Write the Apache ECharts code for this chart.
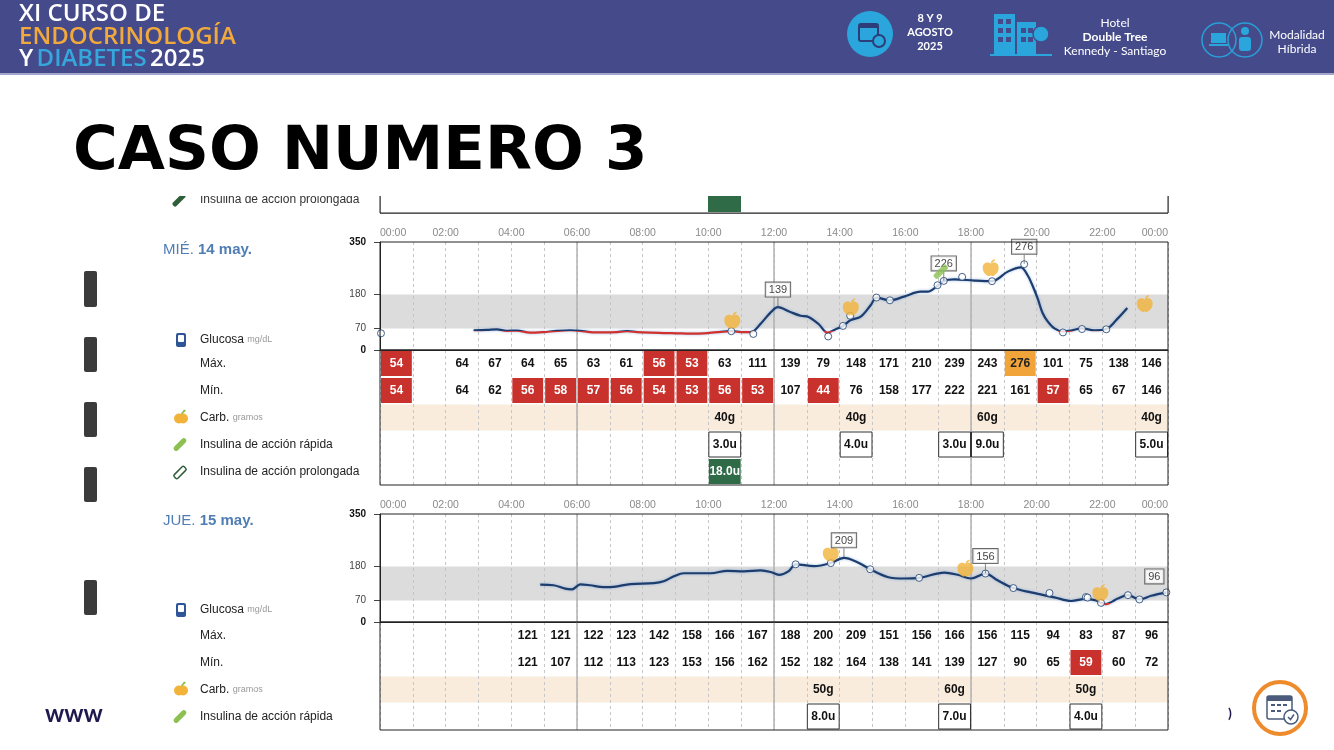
<!DOCTYPE html>
<html><head><meta charset="utf-8">
<script src="https://cdn.jsdelivr.net/npm/echarts@6.0.0/dist/echarts.min.js"></script>
<style>html,body{margin:0;padding:0;background:#fff;}#chart{width:1334px;height:750px;}</style>
</head><body><div id="chart"></div>
<script>
// ---------------- DATA ----------------
const hourTickLabels = ['00:00','02:00','04:00','06:00','08:00','10:00','12:00','14:00','16:00','18:00','20:00','22:00','00:00'];
const yTicks = [0, 70, 180, 350];
const targetRange = [70, 180];
const solidHours = [6, 12, 18];
const rowNamesDay1 = ['Máx.', 'Mín.', 'Carb.', 'Insulina de acción rápida', 'Insulina de acción prolongada'];
const rowNamesDay2 = ['Máx.', 'Mín.', 'Carb.', 'Insulina de acción rápida'];

// Day 1: MIÉ. 14 may.
const day1Weekday = 'MIÉ.';
const day1Date = '14 may.';
const day1Times = [2.85,3.25,3.56,3.86,4.17,4.57,4.98,5.39,5.79,6.1,6.4,6.81,7.22,7.52,7.83,8.24,8.64,9.05,9.46,9.87,10.27,10.7,11.0,11.3,11.6,11.9,12.12,12.5,12.81,13.05,13.35,13.63,13.85,14.1,14.34,14.64,14.95,15.12,15.53,15.96,16.47,16.68,16.98,17.17,17.49,18.1,18.64,19.12,19.52,19.72,19.87,20.03,20.18,20.34,20.54,20.8,21.05,21.38,21.76,22.12,22.45,22.76];
const day1Glucose = [64,65,67,62,63,56,58,62,64,62,58,57,58,61,58,56,55,54,53,54,58,61,58,58,86,122,139,123,111,107,85,56,66,78,97,108,146,170,161,173,189,189,208,224,229,225,223,254,268,243,210,167,120,92,70,60,63,70,64,68,100,136];
const day1ReadTimes = [0.03,10.7,11.37,13.65,14.1,14.32,15.12,15.53,16.98,17.17,17.73,18.64,19.62,20.8,21.38,22.12];
const day1ReadValues = [54,61,52,44,78,111,170,161,210,224,237,223,278,57,68,67];
const day1TagTimes = [12.12,17.17,19.62];
const day1TagValues = [139,224,278];
const day1TagTexts = ['139','226','276'];
const day1MealTimes = [10.73,14.34,18.6,23.29];
const day1MealValues = [97,140,267,151];
const day1PenTimes = [17.08];
const day1PenValues = [254];
const day1Max = [54,null,64,67,64,65,63,61,56,53,63,111,139,79,148,171,210,239,243,276,101,75,138,146];
const day1Min = [54,null,64,62,56,58,57,56,54,53,56,53,107,44,76,158,177,222,221,161,57,65,67,146];
const day1CarbHours = [10,14,18,23];
const day1CarbGrams = [40,40,60,40];
const day1RapidHours = [10,14,17,18,23];
const day1RapidUnits = [3.0,4.0,3.0,9.0,5.0];
const day1LongHours = [10];
const day1LongUnits = [18.0];

// Day 2: JUE. 15 may.
const day2Weekday = 'JUE.';
const day2Date = '15 may.';
const day2Times = [4.88,5.29,5.64,5.85,6.1,6.4,6.81,7.12,7.63,8.34,8.64,8.95,9.25,9.66,10.07,10.58,11.08,11.59,11.9,12.15,12.45,12.66,13.22,13.73,14.13,14.54,14.93,15.46,15.96,16.42,17.19,17.59,18.0,18.44,18.81,19.29,19.83,20.54,21.05,21.5,21.81,21.96,22.12,22.3,22.47,22.78,23.13,23.49,23.95];
const day2Glucose = [121,119,108,106,122,119,113,114,123,126,132,148,158,158,158,166,164,167,162,153,165,187,181,191,208,194,171,146,141,143,160,153,141,157,135,110,96,80,68,75,70,62,58,66,76,87,73,85,96];
const day2ReadTimes = [12.66,13.73,14.93,16.42,18.44,19.29,20.39,21.5,21.55,21.96,22.78,23.13,23.95];
const day2ReadValues = [187,191,171,143,157,110,94,81,79,62,87,73,96];
const day2TagTimes = [14.13,18.44,23.95];
const day2TagValues = [208,157,96];
const day2TagTexts = ['209','156','96'];
const day2MealTimes = [13.73,17.83,21.94];
const day2MealValues = [224,175,96];
const day2Max = [null,null,null,null,121,121,122,123,142,158,166,167,188,200,209,151,156,166,156,115,94,83,87,96];
const day2Min = [null,null,null,null,121,107,112,113,123,153,156,162,152,182,164,138,141,139,127,90,65,59,60,72];
const day2CarbHours = [13,17,21];
const day2CarbGrams = [50,60,50];
const day2RapidHours = [13,17,21];
const day2RapidUnits = [8.0,7.0,4.0];

// ---------------- STYLE / HELPERS ----------------
const SANS = '"Liberation Sans", Arial, sans-serif';
const LOW_CELL = 60, HIGH_CELL = 250, LOW_LINE = 60;
const LINE_BLUE = '#1c3d6e', LINE_RED = '#d0312d';
const APPLE_PATH = 'path://M50,28 C40,16 8,16 8,52 C8,82 30,100 42,100 C46,100 48,97 50,97 C52,97 54,100 58,100 C70,100 92,82 92,52 C92,16 60,16 50,28 Z M50,26 C52,12 62,4 74,2 C72,14 62,22 50,26 Z';

function glucoseKind(v) { return v < LOW_CELL ? 'red' : (v > HIGH_CELL ? 'orange' : 'plain'); }
function zip(a, b) { return a.map((t, i) => [t, b[i]]); }

function buildCells(maxV, minV, carbH, carbG, rapH, rapU, longH, longU) {
  const cells = [];
  maxV.forEach((v, i) => { if (v != null) cells.push({col:i, row:0, text:String(v), kind:glucoseKind(v)}); });
  minV.forEach((v, i) => { if (v != null) cells.push({col:i, row:1, text:String(v), kind:glucoseKind(v)}); });
  carbH.forEach((h, i) => cells.push({col:h, row:2, text:carbG[i] + 'g', kind:'plain'}));
  rapH.forEach((h, i) => cells.push({col:h, row:3, text:rapU[i].toFixed(1) + 'u', kind:'box'}));
  (longH || []).forEach((h, i) => cells.push({col:h, row:4, text:longU[i].toFixed(1) + 'u', kind:'green'}));
  return cells;
}

const CELL_STYLE = {
  red:    {fill:'#c9312d', color:'#fff', ix:1, iy:1},
  orange: {fill:'#f0a43a', color:'#222', ix:1, iy:1},
  plain:  {color:'#111'},
  box:    {fill:'#fff', stroke:'#333', lw:1, color:'#111', ix:0.5, iy:1},
  green:  {fill:'#2e6b46', color:'#fff', ix:0.5, iy:1},
  band:   {fill:'#f9ecdc', ix:0.5, iy:0.5}
};

function cellRenderer(cells) {
  return function (params, api) {
    const c = cells[params.dataIndex];
    const a = api.coord([c.col, c.row]);
    const b = api.coord([c.col + (c.span || 1), c.row + 1]);
    const x0 = Math.min(a[0], b[0]), x1 = Math.max(a[0], b[0]);
    const y0 = Math.min(a[1], b[1]), y1 = Math.max(a[1], b[1]);
    const w = x1 - x0, h = y1 - y0;
    const st = CELL_STYLE[c.kind];
    const children = [];
    if (st.fill || st.stroke) {
      children.push({type:'rect', shape:{x:x0 + st.ix, y:y0 + st.iy, width:w - 2*st.ix, height:h - 2*st.iy},
        style:{fill:st.fill || 'none', stroke:st.stroke || null, lineWidth:st.lw || 0}});
    }
    if (c.text) {
      children.push({type:'text', x:x0 + w/2, y:y0 + h/2 + 0.5,
        style:{text:c.text, fill:st.color, font:'bold 12px ' + SANS, align:'center', verticalAlign:'middle', textAlign:'center', textVerticalAlign:'middle'}});
    }
    return {type:'group', children};
  };
}

const panels = [
  {plotTop:242, tableTop:350, rows:rowNamesDay1.length, times:day1Times, glucose:day1Glucose,
   readT:day1ReadTimes, readV:day1ReadValues, tagT:day1TagTimes, tagV:day1TagValues, tagX:day1TagTexts,
   mealT:day1MealTimes, mealV:day1MealValues, penT:day1PenTimes, penV:day1PenValues,
   cells:buildCells(day1Max, day1Min, day1CarbHours, day1CarbGrams, day1RapidHours, day1RapidUnits, day1LongHours, day1LongUnits)},
  {plotTop:514, tableTop:622, rows:rowNamesDay2.length, times:day2Times, glucose:day2Glucose,
   readT:day2ReadTimes, readV:day2ReadValues, tagT:day2TagTimes, tagV:day2TagValues, tagX:day2TagTexts,
   mealT:day2MealTimes, mealV:day2MealValues, penT:[], penV:[],
   cells:buildCells(day2Max, day2Min, day2CarbHours, day2CarbGrams, day2RapidHours, day2RapidUnits, [], [])}
];

const grid = [], xAxis = [], yAxis = [], series = [];
const PLOT_LEFT = 380, PLOT_W = 788, PLOT_H = 108, ROW_H = 27;
const tagShift = {'96': [-12, -3]};

panels.forEach((p, k) => {
  const gp = 2*k, gt = 2*k + 1;
  grid.push({left:PLOT_LEFT, top:p.plotTop, width:PLOT_W, height:PLOT_H, show:true, borderColor:'#222', borderWidth:1, z:20});
  grid.push({left:PLOT_LEFT, top:p.tableTop, width:PLOT_W, height:ROW_H*p.rows, show:true, borderColor:'#222', borderWidth:1, z:20});
  const split = {show:true, lineStyle:{color:'#c6c6c6', type:[3,3], width:1}};
  xAxis.push({gridIndex:gp, type:'value', min:0, max:24, interval:1, position:'top', z:3,
    axisLine:{show:true, lineStyle:{color:'#222'}}, axisTick:{show:false}, splitLine:split,
    axisLabel:{show:true, color:'#8a8a8a', fontSize:10.5, fontFamily:SANS, margin:3,
      alignMinLabel:'left', alignMaxLabel:'right',
      formatter: v => (v % 2 === 0 ? hourTickLabels[v/2] : '')}});
  xAxis.push({gridIndex:gt, type:'value', min:0, max:24, interval:1, z:3,
    axisLine:{show:false}, axisTick:{show:false}, axisLabel:{show:false}, splitLine:split});
  yAxis.push({gridIndex:gp, type:'value', min:0, max:350, z:3,
    axisLine:{show:true, lineStyle:{color:'#222'}},
    axisTick:{show:true, customValues:yTicks, length:6, lineStyle:{color:'#444'}},
    splitLine:{show:false},
    axisLabel:{customValues:yTicks, margin:14, fontFamily:SANS,
      formatter: v => (v === 0 || v === 350) ? '{b|' + v + '}' : '{n|' + v + '}',
      rich:{b:{fontWeight:'bold', color:'#111', fontSize:10, fontFamily:SANS}, n:{color:'#444', fontSize:10, fontFamily:SANS}}}});
  yAxis.push({gridIndex:gt, type:'value', min:0, max:p.rows, inverse:true, show:false});

  series.push({type:'line', xAxisIndex:gp, yAxisIndex:gp, data:[[0,0]], symbol:'none', lineStyle:{opacity:0}, silent:true,
    markArea:{silent:true, itemStyle:{color:'#dcdcdc'}, data:[[{xAxis:0, yAxis:targetRange[0]},{xAxis:24, yAxis:targetRange[1]}]]}});
  [gp, gt].forEach(gi => {
    series.push({type:'line', xAxisIndex:gi, yAxisIndex:gi, data:[[0,0]], symbol:'none', lineStyle:{opacity:0}, silent:true,
      markLine:{silent:true, symbol:'none', label:{show:false}, lineStyle:{color:'#b2b2b2', type:'solid', width:1.5},
        data: solidHours.map(h => ({xAxis:h}))}});
  });
  series.push({id:'glucose' + k, type:'line', xAxisIndex:gp, yAxisIndex:gp, data:zip(p.times, p.glucose), smooth:0.35, showSymbol:false, z:10,
    lineStyle:{width:2.2, color:LINE_BLUE, shadowColor:'rgba(90,140,210,0.55)', shadowBlur:3}});
  series.push({type:'scatter', xAxisIndex:gp, yAxisIndex:gp, data:zip(p.readT, p.readV), symbol:'circle', symbolSize:7, z:11,
    itemStyle:{color:'#fff', borderColor:LINE_BLUE, borderWidth:1}});
  series.push({type:'scatter', xAxisIndex:gp, yAxisIndex:gp, data:zip(p.mealT, p.mealV), symbol:APPLE_PATH, symbolSize:[16,17], z:12,
    itemStyle:{color:'#f2b33a'}});
  if (p.penT.length) {
    series.push({type:'scatter', xAxisIndex:gp, yAxisIndex:gp, data:zip(p.penT, p.penV), symbol:'roundRect', symbolSize:[6,17], symbolRotate:-45, z:14,
      itemStyle:{color:'#8cc152'}});
  }
  series.push({type:'scatter', xAxisIndex:gp, yAxisIndex:gp, z:13,
    data: p.tagT.map((t, i) => {
      const sh = tagShift[p.tagX[i]];
      const item = {value:[t, p.tagV[i]], name:p.tagX[i]};
      if (sh) { item.symbolSize = 0; item.label = {offset:sh}; }
      return item;
    }),
    symbol:'rect', symbolSize:[1,9], symbolOffset:[0,-5], itemStyle:{color:'#666'},
    label:{show:true, position:'top', distance:1, formatter:'{b}', fontSize:11, fontFamily:SANS, color:'#111',
      backgroundColor:'#fff', borderColor:'#444', borderWidth:1, padding:[2,3,1,3]}});
  const band = [{col:0, span:24, row:2, kind:'band'}];
  series.push({type:'custom', xAxisIndex:gt, yAxisIndex:gt, z:1, silent:true, data:band.map(c => [c.col, c.row]), renderItem:cellRenderer(band)});
  series.push({type:'custom', xAxisIndex:gt, yAxisIndex:gt, z:10, silent:true, data:p.cells.map(c => [c.col + 0.5, c.row + 0.5]), renderItem:cellRenderer(p.cells)});
});

// ---------------- GRAPHIC (slide decoration + row labels) ----------------
function txt(x, y, text, font, fill, align) {
  return {type:'text', x, y, style:{text, font, fill, align:align||'left', verticalAlign:'middle', textAlign:align||'left', textVerticalAlign:'middle'}};
}
const G = [];
function appleIcon(cx, cy) {
  G.push({type:'circle', shape:{cx:cx-2, cy:cy+1, r:5}, style:{fill:'#f2b33a'}});
  G.push({type:'circle', shape:{cx:cx+2, cy:cy+1, r:5}, style:{fill:'#f2b33a'}});
  G.push({type:'polygon', shape:{points:[[cx,cy-4],[cx+3,cy-8],[cx+5,cy-7],[cx+1,cy-3]]}, style:{fill:'#8cbf4a'}});
}
G.push({type:'rect', shape:{x:0,y:0,width:1334,height:74}, style:{fill:'#454a8a'}});
G.push({type:'rect', shape:{x:0,y:73,width:1334,height:2}, style:{fill:'#a2a6cc'}});
const HF = '"Open Sans", "Noto Sans", sans-serif';
G.push(txt(19, 14, 'XI CURSO DE', '600 24px ' + HF, '#ffffff'));
G.push(txt(19, 37, 'ENDOCRINOLOGÍA', '600 24px ' + HF, '#f2a93b'));
G.push({type:'text', x:19, y:59, style:{text:'{w|Y} {b|DIABETES} {w|2025}', verticalAlign:'middle', textVerticalAlign:'middle',
  rich:{w:{font:'600 24px ' + HF, fill:'#ffffff', color:'#ffffff'}, b:{font:'600 24px ' + HF, fill:'#35a7dc', color:'#35a7dc'}}}});
G.push({type:'circle', shape:{cx:870, cy:34, r:23}, style:{fill:'#2aa6dc'}});
G.push({type:'rect', shape:{x:859, y:24, width:19, height:17, r:2}, style:{fill:'none', stroke:'#2d3d78', lineWidth:2}});
G.push({type:'rect', shape:{x:859, y:24, width:19, height:4}, style:{fill:'#2d3d78'}});
G.push({type:'circle', shape:{cx:879, cy:41, r:6}, style:{fill:'#2aa6dc', stroke:'#2d3d78', lineWidth:2}});
const HB = '"Lato", "Noto Sans", sans-serif';
G.push(txt(930, 18, '8 Y 9', 'bold 11px ' + HB, '#fff', 'center'));
G.push(txt(930, 32, 'AGOSTO', 'bold 11px ' + HB, '#fff', 'center'));
G.push(txt(930, 46, '2025', 'bold 11px ' + HB, '#fff', 'center'));
G.push({type:'rect', shape:{x:994, y:14, width:21, height:40}, style:{fill:'#2aa6dc'}});
G.push({type:'rect', shape:{x:1017, y:22, width:19, height:32}, style:{fill:'#2aa6dc'}});
G.push({type:'rect', shape:{x:990, y:54, width:62, height:2}, style:{fill:'#2aa6dc'}});
[[998,19],[1006,19],[998,28],[1006,28],[998,37],[1006,37],[1021,28],[1028,28],[1021,37],[1028,37]].forEach(w =>
  G.push({type:'rect', shape:{x:w[0], y:w[1], width:5, height:5}, style:{fill:'#454a8a'}}));
G.push({type:'circle', shape:{cx:1041, cy:34, r:8}, style:{fill:'#2aa6dc', stroke:'#454a8a', lineWidth:1.5}});
G.push(txt(1115, 23, 'Hotel', '12px ' + HB, '#fff', 'center'));
G.push(txt(1115, 37, 'Double Tree', 'bold 12px ' + HB, '#fff', 'center'));
G.push(txt(1115, 51, 'Kennedy - Santiago', '12px ' + HB, '#fff', 'center'));
G.push({type:'circle', shape:{cx:1219, cy:40, r:17}, style:{fill:'none', stroke:'#2a9fd6', lineWidth:1.5}});
G.push({type:'circle', shape:{cx:1245, cy:40, r:17}, style:{fill:'none', stroke:'#2a9fd6', lineWidth:1.5}});
G.push({type:'rect', shape:{x:1211, y:33, width:15, height:10}, style:{fill:'#2aa6dc'}});
G.push({type:'rect', shape:{x:1209, y:44, width:19, height:2}, style:{fill:'#2aa6dc'}});
G.push({type:'circle', shape:{cx:1245, cy:31, r:4}, style:{fill:'#2aa6dc'}});
G.push({type:'rect', shape:{x:1239, y:37, width:12, height:14, r:3}, style:{fill:'#2aa6dc'}});
G.push(txt(1297, 35, 'Modalidad', '12px ' + HB, '#fff', 'center'));
G.push(txt(1297, 49, 'Híbrida', '12px ' + HB, '#fff', 'center'));
G.push(txt(73, 153, 'CASO NUMERO 3', 'bold 61px "DejaVu Sans", sans-serif', '#000'));

G.push(txt(200, 200, 'Insulina de acción prolongada', '12px ' + SANS, '#333'));
G.push({type:'rect', x:179, y:200, rotation:-Math.PI/4, shape:{x:-2.5, y:-8, width:5, height:16, r:2}, style:{fill:'#2f5f3a'}});
G.push({type:'rect', shape:{x:708, y:190, width:33, height:22}, style:{fill:'#2e6b46'}});
G.push({type:'rect', shape:{x:380, y:212.5, width:788, height:1.2}, style:{fill:'#222'}});
G.push({type:'rect', shape:{x:379.5, y:190, width:1.2, height:23}, style:{fill:'#222'}});
G.push({type:'rect', shape:{x:1167.5, y:190, width:1.2, height:23}, style:{fill:'#222'}});
G.push({type:'rect', z:50, shape:{x:150, y:178, width:1040, height:18}, style:{fill:'#fff'}});

[[271,36],[337,35],[402,35],[467,35],[580,35]].forEach(b =>
  G.push({type:'rect', shape:{x:84, y:b[0], width:13, height:b[1], r:2}, style:{fill:'#3b3b3b'}}));

function dayLabel(y, wd, dt) {
  G.push({type:'text', x:163, y, style:{text:'{a|' + wd + ' }{b|' + dt + '}', verticalAlign:'middle', textVerticalAlign:'middle',
    rich:{a:{font:'15px ' + SANS, fill:'#4f7db4', color:'#4f7db4'}, b:{font:'bold 15px ' + SANS, fill:'#4f7db4', color:'#4f7db4'}}}});
}
dayLabel(250, day1Weekday, day1Date);
dayLabel(521, day2Weekday, day2Date);
function legendBlock(glucY, tableTop, names) {
  G.push({type:'text', x:200, y:glucY, style:{text:'{a|Glucosa} {s|mg/dL}', verticalAlign:'middle', textVerticalAlign:'middle',
    rich:{a:{font:'12px ' + SANS, fill:'#222', color:'#222'}, s:{font:'9px ' + SANS, fill:'#999', color:'#999'}}}});
  G.push({type:'rect', shape:{x:176, y:glucY-7, width:10, height:14, r:2}, style:{fill:'#2d5597'}});
  G.push({type:'rect', shape:{x:178, y:glucY-5, width:6, height:7, r:1}, style:{fill:'#fff'}});
  names.forEach((n, i) => {
    const y = tableTop + ROW_H*i + ROW_H/2;
    if (n === 'Carb.') {
      G.push({type:'text', x:200, y, style:{text:'{a|Carb.} {s|gramos}', verticalAlign:'middle', textVerticalAlign:'middle',
        rich:{a:{font:'12px ' + SANS, fill:'#222', color:'#222'}, s:{font:'9px ' + SANS, fill:'#999', color:'#999'}}}});
      appleIcon(181, y);
    } else {
      G.push(txt(200, y, n, '12px ' + SANS, '#222'));
    }
    if (n === 'Insulina de acción rápida')
      G.push({type:'rect', x:180, y, rotation:-Math.PI/4, shape:{x:-2.5, y:-8, width:5, height:16, r:2.5}, style:{fill:'#8cc152'}});
    if (n === 'Insulina de acción prolongada')
      G.push({type:'rect', x:180, y:y+1, rotation:-Math.PI/4, shape:{x:-2.5, y:-7, width:5, height:14, r:1.5}, style:{fill:'none', stroke:'#2f5f3a', lineWidth:1.5}});
  });
}
legendBlock(340, 350, rowNamesDay1);
legendBlock(610, 622, rowNamesDay2);

G.push(txt(45, 714, 'www', 'bold 24px ' + HB, '#1e1a4f'));
G.push(txt(1228, 713, ')', 'bold 14px ' + HB, '#1e1a4f'));
G.push({type:'circle', shape:{cx:1280, cy:708, r:26}, style:{fill:'#fff', stroke:'#ee8b2c', lineWidth:4}});
G.push({type:'rect', shape:{x:1267, y:696, width:25, height:23, r:2}, style:{fill:'none', stroke:'#4a5b7c', lineWidth:1.5}});
G.push({type:'rect', shape:{x:1267, y:696, width:25, height:5}, style:{fill:'#4a5b7c'}});
[[1271,704],[1277,704],[1283,704],[1271,710],[1277,710]].forEach(d =>
  G.push({type:'rect', shape:{x:d[0], y:d[1], width:4, height:2}, style:{fill:'#4a5b7c'}}));
G.push({type:'circle', shape:{cx:1291, cy:717, r:7}, style:{fill:'#fff', stroke:'#4a5b7c', lineWidth:1.5}});
G.push({type:'polyline', shape:{points:[[1288,717],[1290.5,719.5],[1294,714.5]]}, style:{stroke:'#4a5b7c', lineWidth:1.5, fill:'none'}});

const option = {
  animation:false,
  backgroundColor:'#ffffff',
  grid, xAxis, yAxis, series,
  graphic: G
};
const chart = echarts.init(document.getElementById('chart'), null, {renderer:'canvas', width:1334, height:750});
chart.setOption(option);

// colour the glucose line red below the low threshold, using the axis scale for the split position
try {
  const upd = panels.map((p, k) => {
    const y = chart.convertToPixel({yAxisIndex: 2*k}, LOW_LINE);
    const grad = new echarts.graphic.LinearGradient(0, y - 0.5, 0, y + 0.5, [
      {offset:0, color:LINE_BLUE}, {offset:0.5, color:LINE_BLUE},
      {offset:0.5, color:LINE_RED}, {offset:1, color:LINE_RED}], true);
    return {id:'glucose' + k, lineStyle:{color:grad}};
  });
  chart.setOption({series: upd});
} catch (e) { console.log(e); }
</script></body></html>
